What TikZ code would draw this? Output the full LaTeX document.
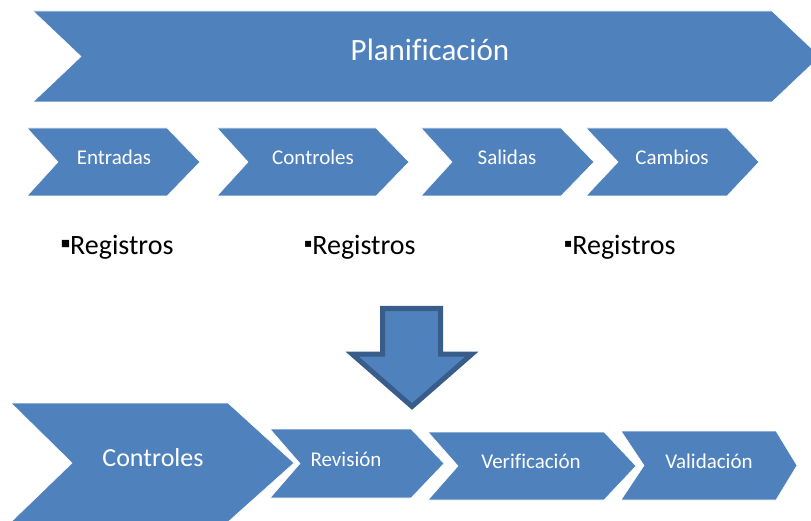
\documentclass[tikz,border=0pt]{standalone}
\usepackage{fontspec}
\setmainfont{Carlito}[Ligatures={NoCommon}]
\newfontfamily\symfont{DejaVu Sans}
\definecolor{chevblue}{HTML}{4F81BD}
\definecolor{arrowline}{HTML}{385D8A}
\newcommand{\bigbul}{\raisebox{8pt}{\symfont\fontsize{9.5}{11}\selectfont ■}}
\newcommand{\smbul}{\raisebox{7pt}{\symfont\fontsize{12}{14}\selectfont ▪}}
\begin{document}
\begin{tikzpicture}[x=1pt,y=-1pt,
  chev/.style={fill=chevblue,draw=white,line width=0.6pt,line join=miter},
  lbl/.style={text=white,anchor=base,inner sep=0pt},
  big/.style={font=\fontsize{31}{35}\selectfont},
  mid/.style={font=\fontsize{26}{30}\selectfont},
  sml/.style={font=\fontsize{21}{25}\selectfont},
  reg/.style={anchor=base west,inner sep=0pt,font=\fontsize{28}{33}\selectfont}]
\useasboundingbox (0,0) rectangle (811,521);
\clip (0,0) rectangle (811,521);
% top chevron
\draw[chev] (33,11) -- (772,11) -- (820,56.5) -- (772,102) -- (33,102) -- (81,56.5) -- cycle;
\node[lbl,big] (plan) at (430,61) {Planificación};
% second row
\draw[chev] (27,128) -- (167,128) -- (200,162) -- (167,196) -- (27,196) -- (58,162) -- cycle;
\node[lbl,sml] (entr) at (114,165) {Entradas};
\draw[chev] (217,128) -- (376,128) -- (409,162) -- (376,196) -- (217,196) -- (248,162) -- cycle;
\node[lbl,sml] (ctrl1) at (313,165) {Controles};
\draw[chev] (421,128) -- (561,128) -- (594,162) -- (561,196) -- (421,196) -- (452,162) -- cycle;
\node[lbl,sml] (sal) at (507,165) {Salidas};
\draw[chev] (586,128) -- (727,128) -- (759,162) -- (727,196) -- (586,196) -- (618,162) -- cycle;
\node[lbl,sml] (camb) at (672,165) {Cambios};
% registros
\node[reg] (reg1) at (61,255) {\bigbul Registros};
\node[reg] (reg2) at (304,255) {\smbul Registros};
\node[reg] (reg3) at (564,255) {\smbul Registros};
% down arrow
\draw[fill=chevblue,draw=arrowline,line width=5pt,line join=miter]
  (382.5,308.5) -- (440.5,308.5) -- (440.5,354) -- (472,354) -- (412,406.5) -- (352,354) -- (382.5,354) -- cycle;
% bottom row
\draw[chev] (11,403) -- (228,403) -- (294,463) -- (228,522) -- (11,522) -- (72,463) -- cycle;
\node[lbl,mid] (ctrl2) at (153,466) {Controles};
\draw[chev] (270,429) -- (411,429) -- (444,463.5) -- (411,498) -- (270,498) -- (300,463.5) -- cycle;
\node[lbl,sml] (rev) at (346,466) {Revisión};
\draw[chev] (428,432) -- (604,432) -- (636,466) -- (604,500) -- (428,500) -- (458,466) -- cycle;
\node[lbl,sml] (ver) at (531,468) {Verificación};
\draw[chev] (621,431) -- (776,431) -- (797,465.5) -- (776,500) -- (621,500) -- (644,465.5) -- cycle;
\node[lbl,sml] (val) at (709,468) {Validación};
\end{tikzpicture}
\end{document}
